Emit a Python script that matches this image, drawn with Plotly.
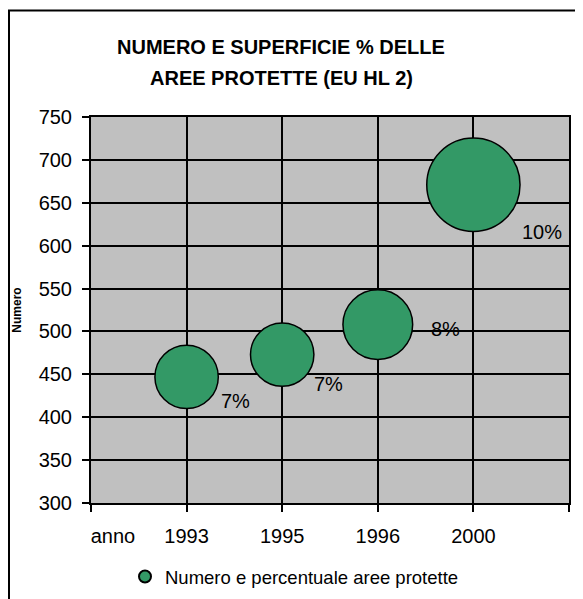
import plotly.graph_objects as go

# Data
years = ["1993", "1995", "1996", "2000"]
x_pos = [1, 2, 3, 4]
numero = [447, 473, 508, 671]
superficie = [7.0, 7.0, 7.7, 10.3]
pct_labels = ["7%", "7%", "8%", "10%"]
x_ticklabels = ["anno", "1993", "1995", "1996", "2000"]
y_ticks = [300, 350, 400, 450, 500, 550, 600, 650, 700, 750]
title_lines = ["NUMERO E SUPERFICIE % DELLE", "AREE PROTETTE (EU HL 2)"]

# label offsets (px) - style
label_dx = [49, 46, 68, 69]
label_dy = [-24, -29, -4, -47]

FONT = "Liberation Sans, Arial, sans-serif"
GREEN = "#339966"

fig = go.Figure()
fig.add_trace(go.Scatter(
    x=x_pos, y=numero, mode="markers",
    name="Numero e percentuale aree protette",
    marker=dict(size=superficie, sizemode="diameter", sizeref=7.0 / 63.4,
                color=GREEN, line=dict(color="black", width=1.5), opacity=1),
    showlegend=True,
))

# invisible trace on label axis
fig.add_trace(go.Scatter(x=[0], y=[300], xaxis="x2", mode="markers",
                         marker=dict(opacity=0), showlegend=False, hoverinfo="skip"))

for xi, yi, t, dx, dy in zip(x_pos, numero, pct_labels, label_dx, label_dy):
    fig.add_annotation(x=xi, y=yi, text=t, showarrow=False, xshift=dx, yshift=dy,
                       font=dict(family=FONT, size=20, color="black"))

# page has an 8px body margin; figure coords = page coords - 8
L, R, T, B = 83, 14, 109, 96
W, H = 575, 591
pw, ph = W - L - R, H - T - B
def px_x(p): return (p - L) / pw
def px_y(p): return (H - B - p) / ph

for line, yc in zip(title_lines, [39, 70]):
    fig.add_annotation(xref="paper", yref="paper", x=px_x(273), y=px_y(yc),
                       xanchor="center", yanchor="middle", showarrow=False,
                       text="<b>%s</b>" % line,
                       font=dict(family=FONT, size=20, color="black"))

fig.update_layout(
    width=W, height=H,
    margin=dict(l=L, r=R, t=T, b=B, pad=0, autoexpand=False),
    paper_bgcolor="white", plot_bgcolor="#C0C0C0",
    font=dict(family=FONT, color="black"),
    xaxis=dict(range=[0, 5], tickvals=[0, 1, 2, 3, 4, 5], ticktext=[""] * 6,
               showgrid=True, gridcolor="black", gridwidth=1.6,
               showline=True, linecolor="black", linewidth=2, mirror=True,
               ticks="outside", ticklen=7, tickcolor="black", tickwidth=2,
               zeroline=False, fixedrange=True, automargin=False),
    xaxis2=dict(range=[0, 5], overlaying="x", side="bottom", anchor="y",
                tickvals=[0.23, 1, 2, 3, 4], ticktext=x_ticklabels,
                showgrid=False, showline=False, ticks="", zeroline=False,
                tickfont=dict(size=20, family=FONT), ticklabelstandoff=19,
                automargin=False),
    yaxis=dict(range=[300, 750], tickvals=y_ticks,
               showgrid=True, gridcolor="black", gridwidth=1.6,
               showline=True, linecolor="black", linewidth=2, mirror=True,
               ticks="outside", ticklen=7, tickcolor="black", tickwidth=2,
               tickfont=dict(size=20, family=FONT), zeroline=False, ticklabelstandoff=6,
               automargin=False,
               title=dict(text="<b>Numero</b>", font=dict(size=12, family=FONT), standoff=14)),
    legend=dict(orientation="h", x=px_x(117), xanchor="left", y=px_y(569), yanchor="middle",
                font=dict(size=18.5, family=FONT), itemsizing="constant",
                bgcolor="rgba(0,0,0,0)", traceorder="normal"),
    shapes=[
        dict(type="line", xref="paper", yref="paper", x0=px_x(1), x1=px_x(1),
             y0=px_y(H + 10), y1=px_y(2.5), line=dict(color="black", width=2)),
        dict(type="line", xref="paper", yref="paper", x0=px_x(0), x1=px_x(W + 10),
             y0=px_y(2.5), y1=px_y(2.5), line=dict(color="black", width=2)),
    ],
)

fig.write_html("out.html")
